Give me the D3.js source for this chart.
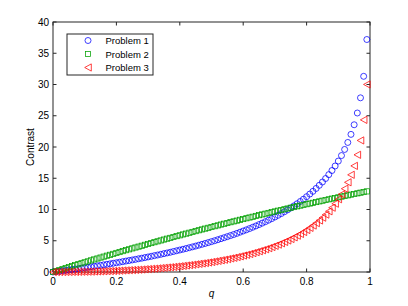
<!DOCTYPE html>
<html>
<head>
<meta charset="utf-8">
<title>Contrast vs q</title>
<script src="https://d3js.org/d3.v7.min.js"></script>
<style>
  body { margin: 0; background: #fff; }
  text { font-family: "Liberation Sans", Arial, sans-serif; }
</style>
</head>
<body>
<script>
const q = [0,0.01,0.02,0.03,0.04,0.05,0.06,0.07,0.08,0.09,
  0.1,0.11,0.12,0.13,0.14,0.15,0.16,0.17,0.18,0.19,
  0.2,0.21,0.22,0.23,0.24,0.25,0.26,0.27,0.28,0.29,
  0.3,0.31,0.32,0.33,0.34,0.35,0.36,0.37,0.38,0.39,
  0.4,0.41,0.42,0.43,0.44,0.45,0.46,0.47,0.48,0.49,
  0.5,0.51,0.52,0.53,0.54,0.55,0.56,0.57,0.58,0.59,
  0.6,0.61,0.62,0.63,0.64,0.65,0.66,0.67,0.68,0.69,
  0.7,0.71,0.72,0.73,0.74,0.75,0.76,0.77,0.78,0.79,
  0.8,0.81,0.82,0.83,0.84,0.85,0.86,0.87,0.88,0.89,
  0.9,0.91,0.92,0.93,0.94,0.95,0.96,0.97,0.98,0.99];

const problem1 = [0,0.06,0.13,0.20,0.26,0.33,0.40,0.47,0.54,0.62,
  0.69,0.76,0.84,0.91,0.99,1.07,1.15,1.23,1.31,1.40,
  1.48,1.57,1.66,1.75,1.84,1.93,2.02,2.12,2.21,2.31,
  2.41,2.51,2.62,2.72,2.83,2.94,3.05,3.16,3.28,3.40,
  3.52,3.64,3.76,3.89,4.02,4.15,4.29,4.43,4.57,4.71,
  4.86,5.01,5.17,5.33,5.49,5.66,5.83,6.00,6.18,6.37,
  6.56,6.75,6.95,7.16,7.37,7.59,7.82,8.05,8.29,8.54,
  8.80,9.07,9.35,9.64,9.94,10.25,10.58,10.92,11.28,11.65,
  12.05,12.47,12.91,13.37,13.87,14.40,14.96,15.58,16.24,16.96,
  17.75,18.63,19.61,20.73,22.02,23.56,25.44,27.87,31.31,37.20];

const problem2 = [0,0.16,0.31,0.47,0.63,0.78,0.94,1.09,1.25,1.40,
  1.55,1.70,1.86,2.01,2.16,2.31,2.46,2.61,2.75,2.90,
  3.05,3.19,3.34,3.49,3.63,3.78,3.92,4.06,4.20,4.35,
  4.49,4.63,4.77,4.91,5.05,5.19,5.33,5.46,5.60,5.74,
  5.87,6.01,6.14,6.28,6.41,6.54,6.68,6.81,6.94,7.07,
  7.20,7.33,7.46,7.59,7.72,7.84,7.97,8.10,8.22,8.35,
  8.47,8.60,8.72,8.84,8.97,9.09,9.21,9.33,9.45,9.57,
  9.69,9.81,9.92,10.04,10.16,10.28,10.39,10.51,10.62,10.73,
  10.85,10.96,11.07,11.19,11.30,11.41,11.52,11.63,11.74,11.84,
  11.95,12.06,12.17,12.27,12.38,12.48,12.59,12.69,12.79,12.90];

const problem3 = [0,0,0,0,0.01,0.01,0.02,0.02,0.03,0.04,
  0.04,0.05,0.06,0.08,0.09,0.10,0.12,0.14,0.15,0.17,
  0.19,0.21,0.24,0.26,0.29,0.31,0.34,0.37,0.40,0.44,
  0.47,0.51,0.54,0.58,0.63,0.67,0.72,0.76,0.81,0.87,
  0.92,0.98,1.04,1.10,1.16,1.23,1.30,1.37,1.44,1.52,
  1.60,1.69,1.78,1.87,1.96,2.06,2.17,2.27,2.39,2.50,
  2.63,2.75,2.88,3.02,3.17,3.32,3.48,3.64,3.81,3.99,
  4.18,4.38,4.59,4.81,5.04,5.28,5.54,5.81,6.09,6.40,
  6.72,7.06,7.43,7.82,8.24,8.69,9.18,9.71,10.29,10.93,
  11.64,12.43,13.33,14.35,15.55,16.98,18.75,21.05,24.34,30.01];

const seriesNames = ['Problem 1', 'Problem 2', 'Problem 3'];
const xTicks = [0, 0.2, 0.4, 0.6, 0.8, 1];
const yTicks = [0, 5, 10, 15, 20, 25, 30, 35, 40];

const width = 408, height = 306;
const margin = { top: 22, right: 38, bottom: 34, left: 53 };
const innerW = width - margin.left - margin.right;
const innerH = height - margin.top - margin.bottom;

const svg = d3.select('body').append('svg')
    .attr('width', width)
    .attr('height', height);

const g = svg.append('g')
    .attr('transform', `translate(${margin.left},${margin.top})`);

const x = d3.scaleLinear().domain([0, 1]).range([0, innerW]);
const y = d3.scaleLinear().domain([0, 40]).range([innerH, 0]);

const colors = ['#0000ff', '#00a000', '#ff0000'];
const series = [problem1, problem2, problem3];

// box + inward ticks on all four sides, matlab style
const axisColor = '#262626';
g.append('rect')
    .attr('width', innerW).attr('height', innerH)
    .attr('fill', 'none').attr('stroke', axisColor).attr('stroke-width', 1);

const tickLen = 3.5;
g.selectAll('.xt').data(xTicks).enter().append('path')
    .attr('d', d => `M${x(d)},${innerH}v${-tickLen}M${x(d)},0v${tickLen}`)
    .attr('stroke', axisColor).attr('stroke-width', 1);
g.selectAll('.yt').data(yTicks).enter().append('path')
    .attr('d', d => `M0,${y(d)}h${tickLen}M${innerW},${y(d)}h${-tickLen}`)
    .attr('stroke', axisColor).attr('stroke-width', 1);

g.selectAll('.xl').data(xTicks).enter().append('text')
    .attr('x', d => x(d)).attr('y', innerH + 13)
    .attr('text-anchor', 'middle')
    .attr('font-size', 10)
    .text(d => d3.format('~g')(d));
g.selectAll('.yl').data(yTicks).enter().append('text')
    .attr('x', -4).attr('y', d => y(d) + 3.5)
    .attr('text-anchor', 'end')
    .attr('font-size', 10)
    .text(d => d);

g.append('text')
    .attr('x', innerW / 2).attr('y', innerH + 25)
    .attr('text-anchor', 'middle')
    .attr('font-size', 10)
    .attr('font-style', 'italic')
    .text('q');

g.append('text')
    .attr('transform', `translate(-19,${innerH / 2}) rotate(-90)`)
    .attr('text-anchor', 'middle')
    .attr('font-size', 10)
    .text('Contrast');

// marker shapes
function marker(sel, i) {
    if (i === 0) {
        sel.append('circle').attr('r', 3);
    } else if (i === 1) {
        sel.append('rect').attr('x', -2.6).attr('y', -2.6).attr('width', 5.2).attr('height', 5.2);
    } else {
        sel.append('path').attr('d', 'M-3.3,0L3.3,-3.6L3.3,3.6Z');
    }
}

series.forEach((vals, i) => {
    const grp = g.append('g')
        .attr('fill', 'none')
        .attr('stroke', colors[i])
        .attr('stroke-width', 0.75);
    grp.selectAll('g').data(q).enter().append('g')
        .attr('transform', (d, j) => `translate(${x(d)},${y(vals[j])})`)
        .each(function () { marker(d3.select(this), i); });
});

// legend
const lg = svg.append('g').attr('transform', 'translate(67,34)');
lg.append('rect').attr('width', 86).attr('height', 41)
    .attr('fill', '#fff').attr('stroke', axisColor).attr('stroke-width', 1);
seriesNames.forEach((name, i) => {
    const row = lg.append('g').attr('transform', `translate(0,${6.5 + i * 13.5})`);
    const m = row.append('g').attr('transform', 'translate(21,0)')
        .attr('fill', 'none').attr('stroke', colors[i]).attr('stroke-width', 0.75);
    marker(m, i);
    row.append('text').attr('x', 38.5).attr('y', 3.5)
        .attr('font-size', 9.5).text(name);
});
</script>
</body>
</html>
